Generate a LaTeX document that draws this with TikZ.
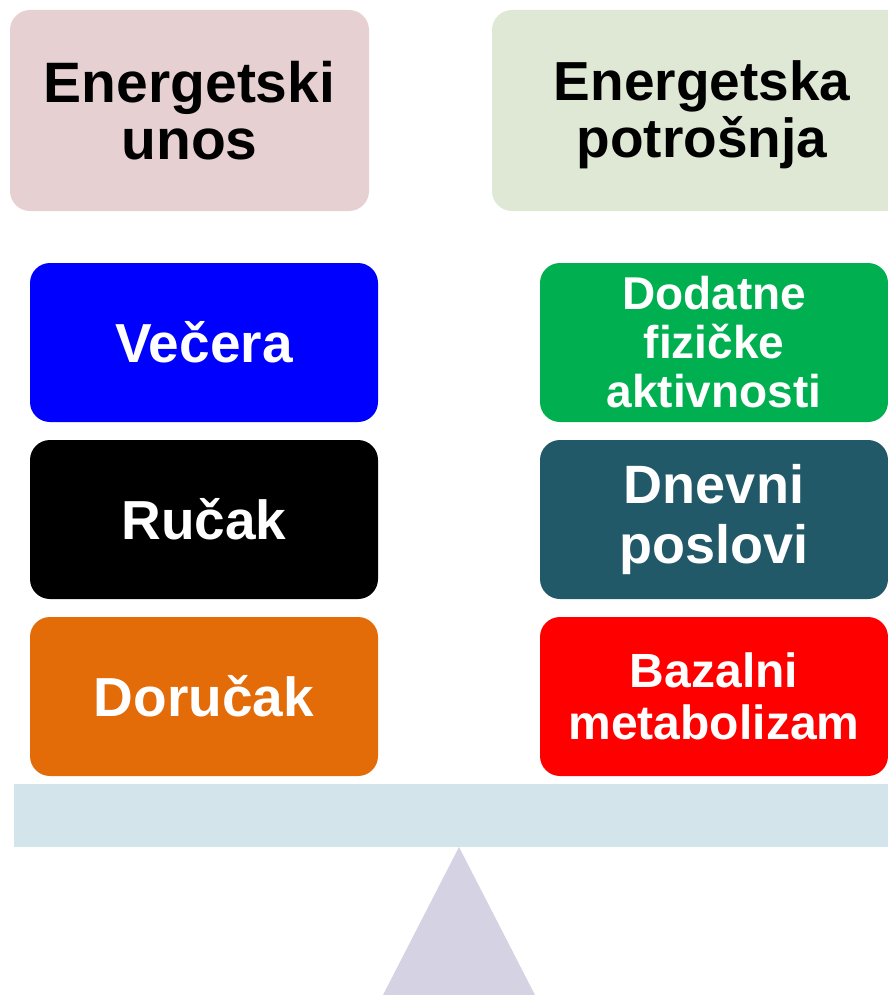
\documentclass[tikz,border=0pt]{standalone}
\usepackage{fontspec}
\setmainfont{Liberation Sans}
\usetikzlibrary{positioning}

\definecolor{unospink}{RGB}{230,208,210}
\definecolor{potrosnjagreen}{RGB}{223,232,213}
\definecolor{vecerablue}{RGB}{0,0,255}
\definecolor{dorucakorange}{RGB}{227,108,9}
\definecolor{dodatnegreen}{RGB}{0,176,80}
\definecolor{dnevniteal}{RGB}{33,89,104}
\definecolor{bazalnired}{RGB}{255,0,0}
\definecolor{beamblue}{RGB}{212,228,235}
\definecolor{stand}{RGB}{213,211,227}

\begin{document}
\begin{tikzpicture}[x=1pt,y=1pt,
    head/.style={rounded corners=20pt, inner sep=0pt, outer sep=0pt,
      minimum height=201pt, align=center,
      font=\bfseries\fontsize{57}{57}\selectfont},
    item/.style={rounded corners=20pt, inner sep=0pt, outer sep=0pt,
      minimum width=348pt, minimum height=159pt, align=center, text=white,
      font=\bfseries\fontsize{55}{58}\selectfont},
    node distance=18pt]
    \useasboundingbox (0,0) rectangle (888,-995);
    % headings
    \node[head, minimum width=359pt, fill=unospink, anchor=north west] (unos) at (10,-10) {Energetski\\unos};
    \node[head, minimum width=420pt, fill=potrosnjagreen, anchor=north west, text depth=2pt, font=\bfseries\fontsize{55}{57}\selectfont] (potrosnja) at (492,-10) {Energetska\\potrošnja};
    % intake
    \node[item, fill=vecerablue, anchor=north west] (vecera) at (30,-263) {Večera};
    \node[item, fill=black, below=of vecera] (rucak) {Ručak};
    \node[item, fill=dorucakorange, below=of rucak] (dorucak) {Doručak};
    % expenditure
    \node[item, fill=dodatnegreen, anchor=north west, font=\bfseries\fontsize{46}{49}\selectfont] (dodatne) at (540,-263) {Dodatne\\fizičke\\aktivnosti};
    \node[item, fill=dnevniteal, below=of dodatne, font=\bfseries\fontsize{54}{60}\selectfont] (dnevni) {Dnevni\\poslovi};
    \node[item, fill=bazalnired, below=of dnevni, font=\bfseries\fontsize{48}{52}\selectfont] (bazalni) {Bazalni\\metabolizam};
    % scale
    \fill[beamblue] (14,-784) rectangle (900,-847);
    \fill[stand] (459,-847) -- (535,-995) -- (383,-995) -- cycle;
\end{tikzpicture}
\end{document}
